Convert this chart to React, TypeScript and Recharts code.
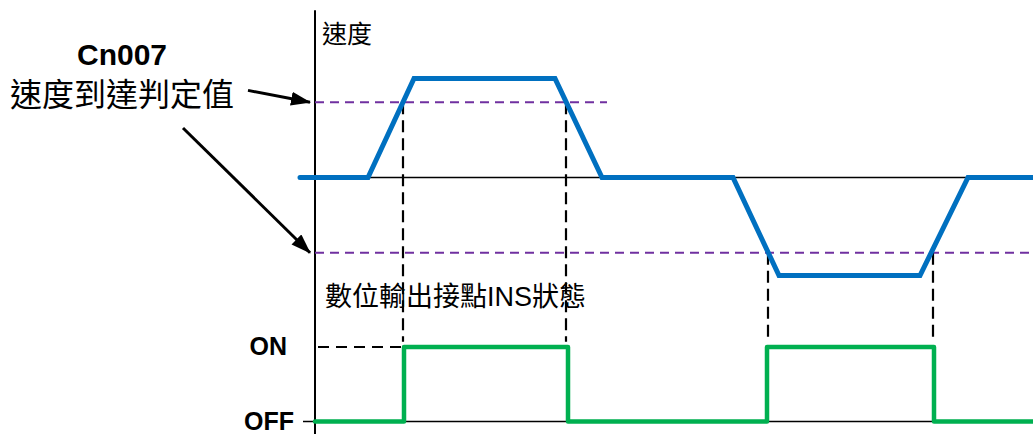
import { Line, LineChart, XAxis, YAxis } from "recharts";

// speed profile (time axis starts at the vertical axis, speed in % of max)
const speedTime = [-15, 53, 99, 240, 287, 418, 464, 605, 653, 718];
const speedValue = [0, 0, 100, 100, 0, 0, -99, -99, 0, 0];

// INS digital output (0 = OFF, 1 = ON), drawn as a step
const insTime = [0, 89, 253, 452, 619, 718];
const insState = [0, 1, 0, 1, 0, 0];

// Cn007 speed reached threshold
const threshold = 76;
const upperThresholdEnd = 292;
const lowerThresholdEnd = 718;

// where the speed crosses the threshold -> INS switches
const upperCrossings = [88, 251];
const lowerCrossings = [453, 618];
const guideBottom = -166;

const timeStart = -15;
const timeEnd = 718;
const axisTop = 169;
const axisBottom = -259;

// annotation arrows [tailTime, tailSpeed, tipTime, tipSpeed]
const arrows = [
  [-67, 88, -5, threshold],
  [-132, 50, -5, -threshold],
];

const W = 1033;
const H = 434;

const seg = (t0: number, v0: number, t1: number, v1: number) => [
  { t: t0, v: v0 },
  { t: t1, v: v1 },
];

const speedData = speedTime.map((t, i) => ({ t, v: speedValue[i] }));
const insData = insTime.map((t, i) => ({ t, v: insState[i] }));

const FONT = "'Liberation Sans', Arial, 'Noto Sans CJK TC', sans-serif";

export default function App() {
  const common = {
    dataKey: "v",
    dot: false,
    activeDot: false,
    isAnimationActive: false,
    legendType: "none" as const,
  };

  return (
    <div style={{ position: "absolute", left: 0, top: 0, width: W, height: H, background: "#fff" }}>
      <svg width={0} height={0} style={{ position: "absolute" }}>
        <defs>
          <marker
            id="arrowHead"
            markerUnits="userSpaceOnUse"
            markerWidth={22}
            markerHeight={16}
            refX={19}
            refY={7}
            orient="auto"
          >
            <path d="M0,0 L20,7 L0,14 Z" fill="#000" />
          </marker>
        </defs>
      </svg>
      <LineChart width={W} height={H} margin={{ top: 0, right: 0, bottom: 0, left: 0 }}>
        <XAxis type="number" dataKey="t" domain={[-315, 718]} hide allowDataOverflow />
        <YAxis yAxisId="speed" type="number" domain={[-259.09, 179.29]} hide allowDataOverflow />
        <YAxis yAxisId="io" type="number" domain={[-0.1678, 5.6577]} hide allowDataOverflow />

        {/* axes and baselines */}
        <Line {...common} yAxisId="speed" data={seg(0, axisTop, 0, axisBottom)} stroke="#000" strokeWidth={2} />
        <Line {...common} yAxisId="speed" data={seg(timeStart, 0, timeEnd, 0)} stroke="#000" strokeWidth={1.5} />
        <Line {...common} yAxisId="io" data={seg(-12, 0, timeEnd, 0)} stroke="#000" strokeWidth={1.5} />

        {/* threshold levels */}
        <Line {...common} yAxisId="speed" data={seg(0, threshold, upperThresholdEnd, threshold)} stroke="#7030A0" strokeWidth={2} strokeDasharray="9 6" />
        <Line {...common} yAxisId="speed" data={seg(0, -threshold, lowerThresholdEnd, -threshold)} stroke="#7030A0" strokeWidth={2} strokeDasharray="9 6" />

        {/* guides from crossings down to INS */}
        {upperCrossings.map((t) => (
          <Line key={"u" + t} {...common} yAxisId="speed" data={seg(t, threshold, t, guideBottom)} stroke="#000" strokeWidth={2.2} strokeDasharray="12 6" />
        ))}
        {lowerCrossings.map((t) => (
          <Line key={"l" + t} {...common} yAxisId="speed" data={seg(t, -threshold, t, guideBottom)} stroke="#000" strokeWidth={2.2} strokeDasharray="12 6" />
        ))}
        <Line {...common} yAxisId="io" data={seg(3, 1, insTime[1], 1)} stroke="#000" strokeWidth={2} strokeDasharray="11 7" />

        {/* arrows */}
        {arrows.map(([t0, v0, t1, v1], i) => (
          <Line key={"a" + i} {...common} yAxisId="speed" data={seg(t0, v0, t1, v1)} stroke="#000" strokeWidth={3} markerEnd="url(#arrowHead)" />
        ))}

        {/* series */}
        <Line {...common} yAxisId="speed" data={speedData} type="linear" stroke="#0070C0" strokeWidth={5} strokeLinecap="round" />
        <Line {...common} yAxisId="io" data={insData} type="stepAfter" stroke="#00B050" strokeWidth={4.5} strokeLinecap="round" strokeLinejoin="round" />
      </LineChart>

      <svg width={W} height={H} style={{ position: "absolute", left: 0, top: 0, pointerEvents: "none" }} fontFamily={FONT}>
        <text x={322} y={43} fontSize={25} fill="#000">速度</text>
        <text x={122} y={65} fontSize={30} fontWeight="bold" textAnchor="middle" fill="#000">Cn007</text>
        <text x={122} y={106} fontSize={32} textAnchor="middle" fill="#000">速度到達判定值</text>
        <text x={325} y={306} fontSize={27} fill="#000">數位輸出接點INS狀態</text>
        <text x={287} y={355} fontSize={25} fontWeight="bold" textAnchor="end" fill="#000">ON</text>
        <text x={294} y={430} fontSize={25} fontWeight="bold" textAnchor="end" fill="#000">OFF</text>
      </svg>
    </div>
  );
}
